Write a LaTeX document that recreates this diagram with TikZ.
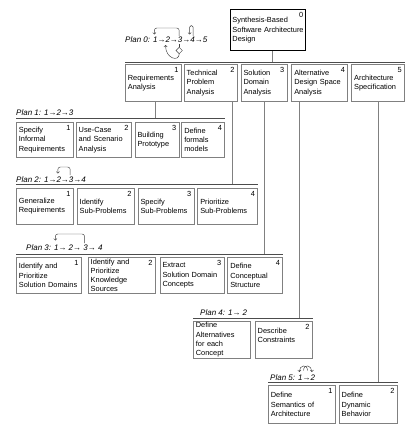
\documentclass[tikz,border=0pt]{standalone}
\usepackage{fontspec}
\setmainfont{Liberation Sans}
\usetikzlibrary{arrows.meta,positioning,shapes.geometric}

\begin{document}
\begin{tikzpicture}[
    x=1pt, y=-1pt,
    every node/.style={font=\fontsize{7.4}{9.3}\selectfont},
    box/.style={draw=black!50, line width=0.8pt, align=left, inner xsep=2.5pt, inner ysep=1pt},
    topbox/.style={box, draw=black, line width=1.3pt, inner xsep=1.8pt},
    num/.style={anchor=north east, inner xsep=3pt, inner ysep=2.8pt},
    plan/.style={anchor=base west, inner sep=0pt, font=\fontsize{8}{9.6}\selectfont\itshape},
    bus/.style={draw=black!70, line width=0.7pt},
    link/.style={draw=black!50, line width=0.8pt},
    pline/.style={draw=black!75, line width=0.45pt},
    parr/.style={pline, -{Straight Barb[length=1.6pt,width=3.2pt]}}
]
\useasboundingbox (0,0) rectangle (419,425);

% Root
\node[topbox, anchor=north west, text width=71.5pt, minimum height=41pt, label={[num]north east:0}] (root) at (230,9) {Synthesis-Based\\Software Architecture\\Design};

% Level 1
\node[box, anchor=north west, text width=51pt, minimum height=37pt, label={[num]north east:1}] (req) at (125,64) {Requirements\\Analysis};
\node[box, right=2pt of req, text width=48pt, minimum height=37pt, label={[num]north east:2}] (tech) {Technical\\Problem\\Analysis};
\node[box, right=3pt of tech, text width=41pt, minimum height=37pt, label={[num]north east:3}] (sol) {Solution\\Domain\\Analysis};
\node[box, right=4pt of sol, text width=51pt, minimum height=37pt, label={[num]north east:4}] (alt) {Alternative\\Design Space\\Analysis};
\node[box, right=3pt of alt, text width=48pt, minimum height=37pt, label={[num]north east:5}] (spec) {Architecture\\Specification};

\coordinate (bus0) at ([yshift=2pt]req.north west);
\draw[bus] (bus0) -- (bus0 -| spec.north east);
\draw[link] ([xshift=4pt]root.south) -- ([xshift=4pt]root.south |- bus0);

% Plan 0
\node[plan] (plan0) at (125,43) {Plan 0: 1→2→3→4→5};
\draw[parr, rounded corners=2.5pt] ([shift={(54.2,-7)}]plan0.base west) -- ++(0,-8) -| ([shift={(29.3,-8.5)}]plan0.base west);
\draw[parr, rounded corners=1.7pt] ([shift={(68.2,-7)}]plan0.base west) -- ++(0,-10.5) -| ([shift={(64.6,-8.5)}]plan0.base west);
\node[pline, diamond, minimum size=6.5pt, inner sep=0pt] (dec) at ([shift={(54.2,7.5)}]plan0.base west) {};
\draw[pline] ([shift={(54.2,1.5)}]plan0.base west) -- (dec.north);
\draw[parr] (dec.south) .. controls +(0,8) and +(0,14) .. ([shift={(40.5,2)}]plan0.base west);

% Plan 1
\node[box, anchor=north west, text width=52pt, minimum height=35pt, label={[num]north east:1}] (inform) at (16,122) {Specify\\Informal\\Requirements};
\node[box, right=2pt of inform, text width=50pt, minimum height=35pt, label={[num]north east:2}] (usecase) {Use-Case\\and Scenario\\Analysis};
\node[box, right=3pt of usecase, text width=39pt, minimum height=35pt, label={[num]north east:3}] (proto) {Building\\Prototype};
\node[box, right=2pt of proto, text width=38pt, minimum height=35pt, label={[num]north east:4}] (formal) {Define\\formals\\models};

\coordinate (bus1) at ([yshift=4pt]inform.north west);
\draw[bus] (bus1) -- (bus1 -| formal.north east);
\draw[link] ([xshift=1.5pt]req.south) -- ([xshift=1.5pt]req.south |- bus1);
\node[plan] (plan1) at ([yshift=2.5pt]bus1) {Plan 1: 1→2→3};

% Plan 2
\node[box, anchor=north west, text width=52pt, minimum height=36pt, label={[num]north east:1}] (general) at (16,188) {Generalize\\Requirements};
\node[box, right=3pt of general, text width=52pt, minimum height=36pt, label={[num]north east:2}] (ident) {Identify\\Sub-Problems};
\node[box, right=3pt of ident, text width=51pt, minimum height=36pt, label={[num]north east:3}] (specsub) {Specify\\Sub-Problems};
\node[box, right=3pt of specsub, text width=55pt, minimum height=36pt, label={[num]north east:4}] (prior) {Prioritize\\Sub-Problems};

\coordinate (bus2) at ([yshift=4pt]general.north west);
\draw[bus] (bus2) -- (bus2 -| prior.north east);
\draw[link] ([xshift=-5pt]tech.south east) -- ([xshift=-5pt]tech.south east |- bus2);
\node[plan] (plan2) at ([yshift=2pt]bus2) {Plan 2: 1→2→3→4};
\draw[parr, rounded corners=2.5pt] ([shift={(54.2,-7)}]plan2.base west) -- ++(0,-8) -| ([shift={(41.8,-8.5)}]plan2.base west);

% Plan 3
\node[box, anchor=north west, text width=60pt, minimum height=36pt, label={[num]north east:1}] (idsol) at (16,257) {Identify and\\Prioritize\\Solution Domains};
\node[box, right=6pt of idsol, text width=62pt, minimum height=36pt, label={[num]north east:2}] (idknow) {Identify and\\Prioritize\\Knowledge\\Sources};
\node[box, right=4pt of idknow, text width=59pt, minimum height=36pt, label={[num]north east:3}] (extract) {Extract\\Solution Domain\\Concepts};
\node[box, right=3pt of extract, text width=50pt, minimum height=36pt, label={[num]north east:4}] (concept) {Define\\Conceptual\\Structure};

\coordinate (bus3) at ([yshift=3pt]idsol.north west);
\draw[bus] (bus3) -- (bus3 -| concept.north east);
\draw[link] (sol.south) -- (sol.south |- bus3);
\node[plan] (plan3) at ([xshift=10pt, yshift=4pt]bus3) {Plan 3: 1→ 2→ 3→ 4};
\draw[parr, rounded corners=2.5pt] ([shift={(58.6,-7)}]plan3.base west) -- ++(0,-9) -| ([shift={(29.3,-9.5)}]plan3.base west);

% Plan 4
\node[box, anchor=north west, text width=52pt, minimum height=37pt] (defalt) at (193,321) {Define\\Alternatives\\for each\\Concept};
\node[box, right=4pt of defalt, text width=52pt, minimum height=37pt, label={[num]north east:2}] (constr) {Describe\\Constraints\\~};

\coordinate (bus4) at ([yshift=3pt]defalt.north west);
\draw[bus] (bus4) -- (bus4 -| constr.north east);
\draw[link] ([xshift=8pt]alt.south west) -- ([xshift=8pt]alt.south west |- bus4);
\node[plan] (plan4) at ([xshift=7pt, yshift=3pt]bus4) {Plan 4: 1→ 2};

% Plan 5
\node[box, anchor=north west, text width=62pt, minimum height=38pt, label={[num]north east:1}] (semant) at (268,385) {Define\\Semantics of\\Architecture};
\node[box, right=3pt of semant, text width=53pt, minimum height=38pt, label={[num]north east:2}] (dynam) {Define\\Dynamic\\Behavior};

\coordinate (bus5) at ([yshift=3pt]semant.north west);
\draw[bus] (bus5) -- (bus5 -| dynam.north east);
\draw[link] (spec.south) -- (spec.south |- bus5);
\node[plan] (plan5) at ([xshift=2pt, yshift=1.5pt]bus5) {Plan 5: 1→2};
\draw[parr] ([shift={(37.5,-10)}]plan5.base west) .. controls +(0,-7) and +(0,-7) .. ([shift={(29.3,-8.5)}]plan5.base west);
\draw[parr] ([shift={(33.6,-10)}]plan5.base west) .. controls +(0,-7) and +(0,-7) .. ([shift={(41.8,-8.5)}]plan5.base west);

\end{tikzpicture}
\end{document}
